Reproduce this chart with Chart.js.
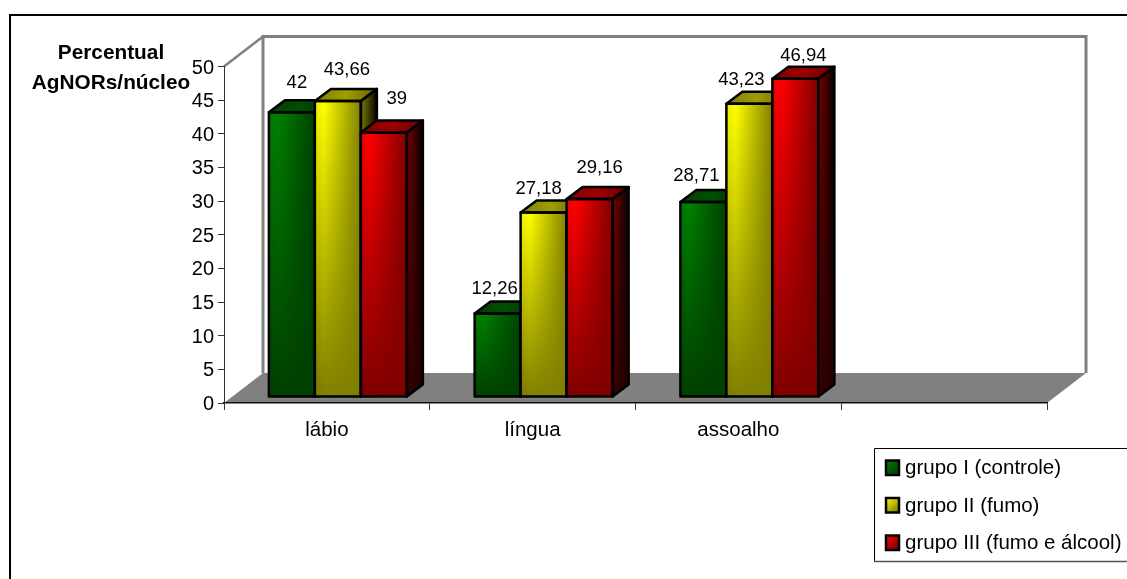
<!DOCTYPE html>
<html lang="pt">
<head>
<meta charset="utf-8">
<title>Percentual AgNORs/núcleo</title>
<script src="https://cdn.jsdelivr.net/npm/chart.js@4"></script>
<style>
    html, body { margin: 0; padding: 0; background: #fff; overflow: hidden; }
    canvas { display: block; }
</style>
</head>
<body>
<canvas id="chart-agnors" width="1127" height="579"></canvas>
<script>
const categorias = ['lábio', 'língua', 'assoalho', ''];
const grupoI = [42, 12.26, 28.71];
const grupoII = [43.66, 27.18, 43.23];
const grupoIII = [39, 29.16, 46.94];
const nomesGrupos = ['grupo I (controle)', 'grupo II (fumo)', 'grupo III (fumo e álcool)'];
const tituloEixo = ['Percentual', 'AgNORs/núcleo'];

const FONTE = '"Liberation Sans", Arial, sans-serif';
const CINZA = '#808080';
const cores = [[0, 128, 0], [255, 255, 0], [255, 0, 0]];

// deslocamento do "3D": parede de fundo e profundidade das barras
const FUNDO = { dx: 39, dy: -30 };
const PROF = { dx: 16, dy: -12 };
const BARRA_OFFSET = { x: 11, y: -6.5 };

// ajuste fino de cada rótulo em relação ao topo da barra [serie][categoria]
const ajusteRotulos = [
    [[5, -29], [-3, -25], [-7, -26]],
    [[9, -31], [-5, -24], [-8, -24]],
    [[13, -34], [10, -31], [8, -23]]
];

const cor = (rgb, k) => `rgb(${rgb.map(c => Math.round(c * k)).join(',')})`;
const mix = (a, b, t) => a + (b - a) * t;

const poligono = (ctx, pts) => {
    ctx.beginPath();
    pts.forEach((p, i) => i ? ctx.lineTo(p[0], p[1]) : ctx.moveTo(p[0], p[1]));
    ctx.closePath();
};

// cenário: moldura, parede e chão em cinza
const cenario = {
    id: 'cenario',
    beforeDraw(chart) {
        const { ctx, chartArea: a } = chart;
        ctx.save();
        ctx.strokeStyle = '#000';
        ctx.lineWidth = 2;
        ctx.beginPath();
        ctx.moveTo(10, 579);
        ctx.lineTo(10, 15);
        ctx.lineTo(1127, 15);
        ctx.stroke();

        poligono(ctx, [[a.left, a.bottom], [a.right, a.bottom],
            [a.right + FUNDO.dx, a.bottom + FUNDO.dy], [a.left + FUNDO.dx, a.bottom + FUNDO.dy]]);
        ctx.fillStyle = CINZA;
        ctx.fill();

        ctx.strokeStyle = CINZA;
        ctx.lineWidth = 3;
        ctx.lineJoin = 'miter';
        ctx.beginPath();
        ctx.moveTo(a.left + FUNDO.dx, a.bottom + FUNDO.dy);
        ctx.lineTo(a.left + FUNDO.dx, a.top + FUNDO.dy);
        ctx.lineTo(a.right + FUNDO.dx, a.top + FUNDO.dy);
        ctx.lineTo(a.right + FUNDO.dx, a.bottom + FUNDO.dy);
        ctx.stroke();
        ctx.lineWidth = 2.5;
        ctx.beginPath();
        ctx.moveTo(a.left, a.top);
        ctx.lineTo(a.left + FUNDO.dx, a.top + FUNDO.dy);
        ctx.stroke();
        ctx.restore();
    }
};

// face frontal e lateral: claro em cima à esquerda, escurecendo para baixo
const faixas = (ctx, x0, x1, yTop, yBase, rgb, esq0, esq1, dir0, dir1, plato) => {
    for (let y = Math.floor(yTop); y < yBase; y++) {
        const t = (y - yTop) / (yBase - yTop);
        const g = ctx.createLinearGradient(x0, 0, x1, 0);
        const kEsq = mix(esq0, esq1, t);
        g.addColorStop(0, cor(rgb, kEsq * (plato ? 0.94 : 1)));
        if (plato) g.addColorStop(plato, cor(rgb, kEsq));
        g.addColorStop(1, cor(rgb, mix(dir0, dir1, t)));
        ctx.fillStyle = g;
        ctx.fillRect(x0, y, x1 - x0, 1);
    }
};

const desenhaBarra = (ctx, el, rgb) => {
    const x0 = el.x - el.width / 2 + BARRA_OFFSET.x;
    const x1 = x0 + el.width;
    const yTop = el.y + BARRA_OFFSET.y;
    const yBase = el.base + BARRA_OFFSET.y;
    const { dx, dy } = PROF;

    const topo = [[x0, yTop], [x1, yTop], [x1 + dx, yTop + dy], [x0 + dx, yTop + dy]];
    const lado = [[x1, yTop], [x1 + dx, yTop + dy], [x1 + dx, yBase + dy], [x1, yBase]];

    ctx.save();
    poligono(ctx, topo);
    const gTopo = ctx.createLinearGradient(x0, 0, x1 + dx, 0);
    gTopo.addColorStop(0, cor(rgb, 0.5));
    gTopo.addColorStop(0.5, cor(rgb, 0.62));
    gTopo.addColorStop(1, cor(rgb, 0.4));
    ctx.fillStyle = gTopo;
    ctx.fill();

    ctx.save();
    poligono(ctx, lado);
    ctx.clip();
    faixas(ctx, x1, x1 + dx, yTop + dy, yBase, rgb, 0.5, 0.2, 0, 0.14);
    ctx.restore();

    ctx.save();
    ctx.beginPath();
    ctx.rect(x0, yTop, el.width, yBase - yTop);
    ctx.clip();
    faixas(ctx, x0, x1, yTop, yBase, rgb, 1, 0.5, 0.5, 0.5, 0.2);
    ctx.restore();

    ctx.strokeStyle = '#000';
    ctx.lineWidth = 2.5;
    ctx.lineJoin = 'round';
    poligono(ctx, topo);
    ctx.stroke();
    poligono(ctx, lado);
    ctx.stroke();
    ctx.strokeRect(x0, yTop, el.width, yBase - yTop);
    ctx.restore();
};

// as barras saem dos elementos do Chart.js, o plugin só pinta as três faces
const barras3d = {
    id: 'barras3d',
    afterDatasetsDraw(chart) {
        const { ctx } = chart;
        const n = chart.data.labels.length;
        for (let c = 0; c < n; c++) {
            chart.data.datasets.forEach((ds, s) => {
                const el = chart.getDatasetMeta(s).data[c];
                if (!el || ds.data[c] == null) return;
                desenhaBarra(ctx, el, cores[s]);
            });
        }

        ctx.save();
        ctx.fillStyle = '#000';
        ctx.font = `18.5px ${FONTE}`;
        ctx.textAlign = 'center';
        ctx.textBaseline = 'middle';
        chart.data.datasets.forEach((ds, s) => {
            ds.data.forEach((v, c) => {
                const el = chart.getDatasetMeta(s).data[c];
                const [ax, ay] = ajusteRotulos[s][c];
                const txt = String(v).replace('.', ',');
                ctx.fillText(txt, el.x + BARRA_OFFSET.x + ax, el.y + BARRA_OFFSET.y + ay);
            });
        });
        ctx.restore();
    }
};

const textos = {
    id: 'textos',
    afterDraw(chart) {
        const { ctx } = chart;
        ctx.save();
        ctx.fillStyle = '#000';
        ctx.textBaseline = 'middle';

        ctx.font = `bold 20.8px ${FONTE}`;
        ctx.textAlign = 'center';
        ctx.fillText(tituloEixo[0], 111, 53);
        ctx.fillText(tituloEixo[1], 111, 83);

        // legenda
        ctx.fillStyle = '#fff';
        ctx.fillRect(874, 448, 253, 113);
        ctx.strokeStyle = '#000';
        ctx.lineWidth = 1;
        ctx.beginPath();
        ctx.moveTo(1127, 448.5);
        ctx.lineTo(874.5, 448.5);
        ctx.lineTo(874.5, 561);
        ctx.stroke();
        ctx.strokeStyle = '#555';
        ctx.lineWidth = 1.5;
        ctx.beginPath();
        ctx.moveTo(874, 561.5);
        ctx.lineTo(1127, 561.5);
        ctx.stroke();

        ctx.font = `20.5px ${FONTE}`;
        ctx.textAlign = 'left';
        const linhas = [467.5, 505, 542.5];
        nomesGrupos.forEach((nome, i) => {
            const y = linhas[i];
            const g = ctx.createLinearGradient(886, y - 7, 899, y + 7);
            g.addColorStop(0, cor(cores[i], 1));
            g.addColorStop(1, cor(cores[i], 0.45));
            ctx.fillStyle = g;
            ctx.fillRect(886, y - 7, 13, 14.5);
            ctx.strokeStyle = '#000';
            ctx.lineWidth = 2.5;
            ctx.strokeRect(886, y - 7, 13, 14.5);
            ctx.fillStyle = '#000';
            ctx.fillText(nome, 905, y + 1);
        });
        ctx.restore();
    }
};

const ctx = document.getElementById('chart-agnors').getContext('2d');
new Chart(ctx, {
    type: 'bar',
    data: {
        labels: categorias,
        datasets: [grupoI, grupoII, grupoIII].map((valores, i) => ({
            label: nomesGrupos[i],
            data: valores,
            yAxisID: 'yBarras',
            backgroundColor: 'transparent',
            borderWidth: 0,
            categoryPercentage: 0.6707,
            barPercentage: 1
        }))
    },
    options: {
        responsive: false,
        animation: false,
        layout: { padding: { top: 66.5, right: 80, left: 0, bottom: 0 } },
        plugins: {
            legend: { display: false },
            tooltip: { enabled: false }
        },
        scales: {
            x: {
                afterFit: s => { s.height = 176; },
                grid: {
                    drawOnChartArea: false,
                    color: '#333',
                    tickLength: 7,
                    tickColor: '#333'
                },
                border: { color: '#111', width: 1.5 },
                ticks: {
                    color: '#000',
                    padding: 8,
                    maxRotation: 0,
                    font: { family: FONTE, size: 20.5 }
                }
            },
            y: {
                position: 'left',
                min: 0,
                max: 50,
                afterFit: s => { s.width = 224; },
                grid: {
                    drawOnChartArea: false,
                    tickLength: 6,
                    tickColor: '#333'
                },
                border: { color: '#333', width: 1 },
                ticks: {
                    stepSize: 5,
                    autoSkip: false,
                    color: '#000',
                    padding: 4,
                    labelOffset: 1.5,
                    font: { family: FONTE, size: 20 }
                }
            },
            // o plano frontal das barras é um pouco mais alto que o eixo visível
            yBarras: {
                display: false,
                min: 0,
                max: 49.7
            }
        }
    },
    plugins: [cenario, barras3d, textos]
});
</script>
</body>
</html>
